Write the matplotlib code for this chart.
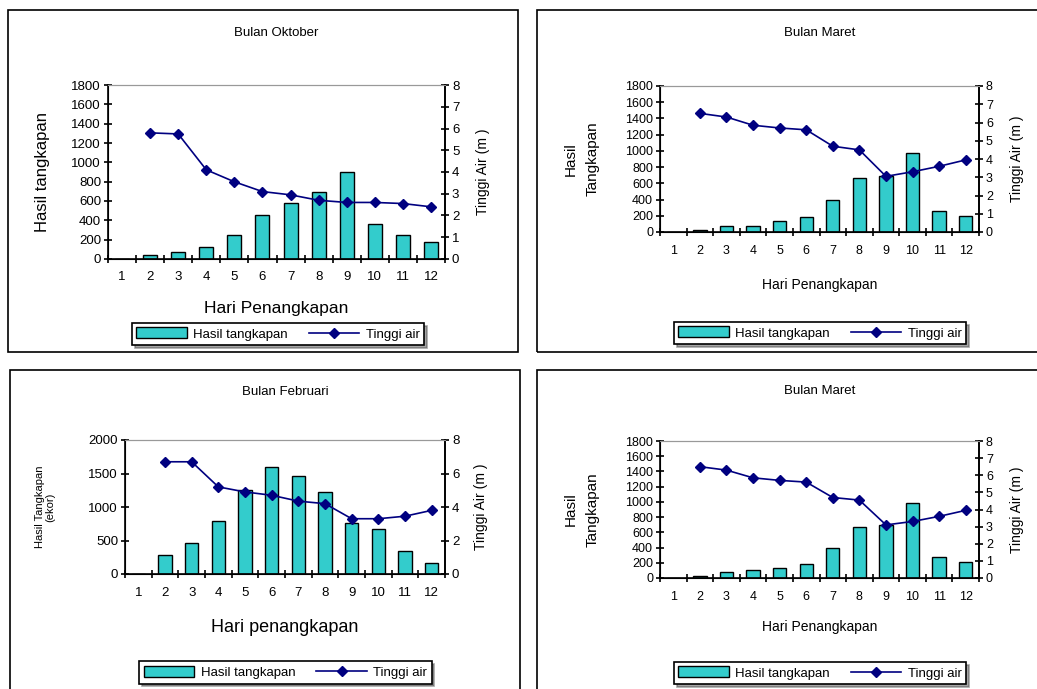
import matplotlib
matplotlib.use("Agg")
import matplotlib.pyplot as plt
from matplotlib.patches import Rectangle

plt.rcParams['font.family'] = ['Liberation Sans', 'DejaVu Sans']

hari = [1, 2, 3, 4, 5, 6, 7, 8, 9, 10, 11, 12]

# Bulan Oktober
okt_hasil = [0, 40, 70, 120, 250, 460, 580, 690, 900, 360, 250, 175]
okt_tinggi = [None, 5.8, 5.75, 4.1, 3.55, 3.1, 2.95, 2.7, 2.6, 2.6, 2.55, 2.4]

# Bulan Maret (atas)
mar_hasil = [0, 20, 80, 80, 135, 180, 400, 660, 690, 980, 260, 200]
mar_tinggi = [None, 6.5, 6.3, 5.85, 5.7, 5.6, 4.7, 4.5, 3.05, 3.3, 3.6, 3.95]

# Bulan Februari
feb_hasil = [0, 290, 460, 790, 1250, 1590, 1470, 1230, 760, 670, 340, 160]
feb_tinggi = [None, 6.7, 6.7, 5.2, 4.9, 4.7, 4.35, 4.2, 3.3, 3.3, 3.45, 3.8]

# Bulan Maret (bawah)
mar2_hasil = [0, 20, 80, 100, 130, 180, 390, 670, 690, 990, 270, 210]
mar2_tinggi = [None, 6.5, 6.3, 5.85, 5.7, 5.6, 4.7, 4.55, 3.1, 3.3, 3.6, 3.95]

W, H = 1037, 689
fig = plt.figure(figsize=(W / 100, H / 100), dpi=100)

BAR = '#33CCCC'
LINE = '#000080'


def box(x0, y0, x1, y1):
    fig.patches.append(Rectangle((x0 / W, 1 - y1 / H), (x1 - x0) / W, (y1 - y0) / H,
                                 transform=fig.transFigure, fill=False,
                                 edgecolor='black', linewidth=1.2))


def panel(rect, hasil, tinggi, title, title_y, ymax, ystep, y2step,
          ylabel, ylfs, ylx, xlabel, xlfs, xly, leg, tfs=9, yrlx=None, lsp=1.1):
    x0, y0, x1, y1 = rect
    ax = fig.add_axes([x0 / W, 1 - y1 / H, (x1 - x0) / W, (y1 - y0) / H])
    pos = list(range(len(hari)))
    ax.bar(pos, hasil, width=0.5, color=BAR, edgecolor='black', linewidth=1,
           label='Hasil tangkapan', zorder=2)
    ax.set_xlim(-0.5, len(hari) - 0.5)
    ax.set_ylim(0, ymax)
    ax.set_yticks(range(0, ymax + 1, ystep))
    ax.set_xticks(pos)
    ax.set_xticklabels([str(h) for h in hari], fontsize=tfs)
    ax.set_xticks([p - 0.5 for p in pos] + [len(hari) - 0.5], minor=True)
    ax.tick_params(axis='x', which='major', length=0, pad=9)
    ax.tick_params(axis='x', which='minor', length=6, direction='inout', width=1.2)
    ax.tick_params(axis='y', labelsize=tfs, direction='inout', length=6, width=1.2, pad=2)
    for s in ['left', 'bottom', 'right']:
        ax.spines[s].set_linewidth(1.2)
    ax.spines['top'].set_color('#999999')

    ax2 = ax.twinx()
    xs = [p for p, t in zip(pos, tinggi) if t is not None]
    ys = [t for t in tinggi if t is not None]
    ax2.plot(xs, ys, color=LINE, marker='D', markersize=5, linewidth=1.2,
             label='Tinggi air')
    ax2.set_ylim(0, 8)
    ax2.set_yticks(range(0, 9, y2step))
    ax2.tick_params(axis='y', labelsize=tfs, direction='inout', length=6, width=1.2, pad=2)
    ax2.spines['right'].set_linewidth(1.2)
    ax2.spines['top'].set_color('#999999')
    fig.text(yrlx / W, 1 - (y0 + y1) / 2 / H, 'Tinggi Air (m )', ha='center', va='center',
             rotation=90, fontsize=10)

    fig.text((x0 + x1) / 2 / W, 1 - title_y / H, title, ha='center', va='center', fontsize=9.5)
    fig.text(ylx / W, 1 - (y0 + y1) / 2 / H, ylabel, ha='center', va='center',
             rotation=90, fontsize=ylfs, linespacing=lsp, multialignment='center')
    fig.text((x0 + x1) / 2 / W, 1 - xly / H, xlabel, ha='center', va='center', fontsize=xlfs)

    lx0, ly0, lx1, ly1 = leg
    h1, l1 = ax.get_legend_handles_labels()
    h2, l2 = ax2.get_legend_handles_labels()
    lg = fig.legend(h1 + h2, l1 + l2, loc='center',
                    bbox_to_anchor=((lx0 + lx1) / 2 / W, 1 - (ly0 + ly1) / 2 / H),
                    ncol=2, frameon=True, fancybox=False, shadow=True, fontsize=9.5,
                    handlelength=3.8, handleheight=0.9, columnspacing=1.6,
                    borderpad=0.35, handletextpad=0.5)
    lg.get_frame().set_edgecolor('black')
    lg.get_frame().set_linewidth(1.2)


box(8, 10, 518, 352)
box(537, 10, 1060, 352)
box(10, 370, 520, 720)
box(537, 370, 1060, 720)

panel((108, 85, 445, 259), okt_hasil, okt_tinggi, 'Bulan Oktober', 33,
      1800, 200, 1, 'Hasil tangkapan', 12, 42,
      'Hari Penangkapan', 12.5, 309, (133, 320, 423, 348), tfs=9.5, yrlx=483)

panel((660, 86, 979, 232), mar_hasil, mar_tinggi, 'Bulan Maret', 33,
      1800, 200, 1, 'Hasil\nTangkapan', 11, 582,
      'Hari Penangkapan', 10, 285, (675, 318, 965, 348), yrlx=1017, lsp=1.7)

panel((125, 440, 445, 574), feb_hasil, feb_tinggi, 'Bulan Februari', 392,
      2000, 500, 2, 'Hasil Tangkapan\n(ekor)', 8, 45,
      'Hari penangkapan', 13, 627, (143, 658, 428, 687), tfs=9.5, yrlx=481)

panel((660, 441, 979, 578), mar2_hasil, mar2_tinggi, 'Bulan Maret', 391,
      1800, 200, 1, 'Hasil\nTangkapan', 11, 582,
      'Hari Penangkapan', 10, 627, (675, 658, 965, 688), yrlx=1017, lsp=1.7)

fig.savefig('out.png', dpi=100)
